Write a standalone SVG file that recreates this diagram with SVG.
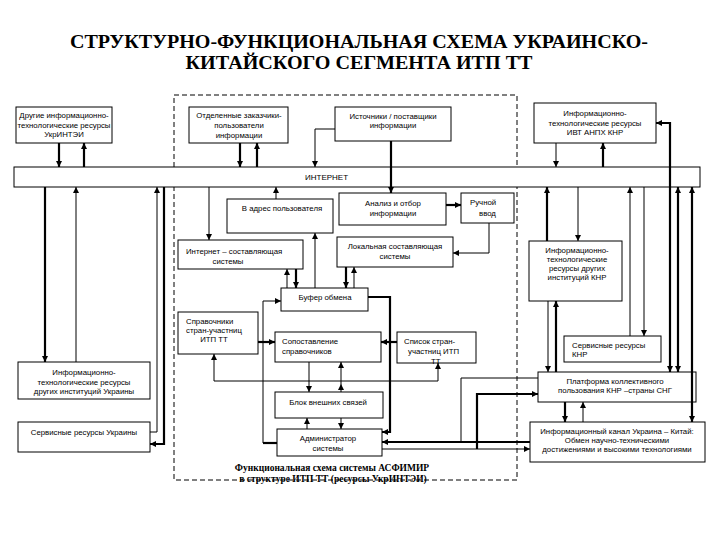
<svg xmlns="http://www.w3.org/2000/svg" width="720" height="540" viewBox="0 0 720 540">
<style>
.bx{fill:#fff;stroke:#000;stroke-width:1}
.t{font-family:"Liberation Sans",Arial,sans-serif;font-size:7.8px;fill:#000}
.m{text-anchor:middle}
.th{fill:none;stroke:#000;stroke-width:1}
.tk{fill:none;stroke:#000;stroke-width:2.2}
.ar{marker-end:url(#a)}
.as{marker-start:url(#a)}
.ttl{font-family:"Liberation Serif","Times New Roman",serif;font-weight:bold;font-size:19px;text-anchor:middle}
.cap{font-family:"Liberation Serif","Times New Roman",serif;font-weight:bold;font-size:9.5px;text-anchor:middle}
</style>
<defs>
<marker id="a" viewBox="0 0 6 6" refX="6" refY="3" markerWidth="6" markerHeight="6" markerUnits="userSpaceOnUse" orient="auto-start-reverse">
<path d="M0,0 L6,3 L0,6 z" fill="#000"/>
</marker>
</defs>
<rect width="720" height="540" fill="#fff"/>
<g id="title">
<text class="ttl" x="359" y="48" textLength="578" lengthAdjust="spacingAndGlyphs">СТРУКТУРНО-ФУНКЦИОНАЛЬНАЯ СХЕМА УКРАИНСКО-</text>
<text class="ttl" x="359" y="69" textLength="347" lengthAdjust="spacingAndGlyphs">КИТАЙСКОГО СЕГМЕНТА ИТП ТТ</text>
</g>
<g id="frame">
<rect x="174" y="95" width="343" height="385" fill="none" stroke="#000" stroke-width="1" stroke-dasharray="5,3"/>
<text class="cap" x="332" y="471">Функциональная схема системы АСФИМИР</text>
<text class="cap" x="333" y="482">в структуре ИТП ТТ (ресурсы УкрИНТЭИ)</text>
</g>
<g id="internet"><rect class="bx" x="14" y="167" width="686" height="20"/><text class="t" x="305" y="180" style="font-size:8px">ИНТЕРНЕТ</text></g>
<g id="n1"><rect class="bx" x="16" y="107" width="96" height="36"/><text class="t m" x="64" y="118">Другие информационно-</text><text class="t m" x="64" y="128">технологические ресурсы</text><text class="t m" x="64" y="137">УкрИНТЭИ</text></g>
<g id="n2"><rect class="bx" x="189" y="107" width="99" height="36"/><text class="t m" x="239" y="118">Отделенные  заказчики-</text><text class="t m" x="239" y="128">пользователи</text><text class="t m" x="239" y="138">информации</text></g>
<g id="n3"><rect class="bx" x="335" y="107" width="116" height="34"/><text class="t m" x="393" y="119">Источники / поставщики</text><text class="t m" x="393" y="128">информации</text></g>
<g id="n4"><rect class="bx" x="534" y="103" width="122" height="40"/><text class="t m" x="595" y="116">Информационно-</text><text class="t m" x="595" y="126">технологические ресурсы</text><text class="t m" x="595" y="135">ИВТ АНПХ КНР</text></g>
<g id="n5"><rect class="bx" x="227" y="199" width="106" height="34"/><text class="t m" x="282" y="211">В адрес пользователя</text></g>
<g id="n6"><rect class="bx" x="339" y="193" width="107" height="32"/><text class="t m" x="393" y="206">Анализ и отбор</text><text class="t m" x="393" y="216">информации</text></g>
<g id="n7"><rect class="bx" x="461" y="193" width="53" height="30"/><text class="t" x="470" y="205">Ручной</text><text class="t" x="479" y="216">ввод</text></g>
<g id="n8"><rect class="bx" x="178" y="240" width="125" height="29"/><text class="t" x="186" y="254">Интернет – составляющая</text><text class="t m" x="228" y="264">системы</text></g>
<g id="n9"><rect class="bx" x="337" y="237" width="116" height="30"/><text class="t m" x="395" y="249">Локальная составляющая</text><text class="t m" x="395" y="259">системы</text></g>
<g id="n10"><rect class="bx" x="281" y="288" width="87" height="23"/><text class="t m" x="325" y="300">Буфер обмена</text></g>
<g id="n11"><rect class="bx" x="178" y="312" width="80" height="42"/><text class="t" x="186" y="324">Справочники</text><text class="t" x="186" y="333">стран-участниц</text><text class="t m" x="214" y="342">ИТП  ТТ</text></g>
<g id="n12"><rect class="bx" x="275" y="332" width="106" height="30"/><text class="t" x="282" y="344">Сопоставление</text><text class="t" x="282" y="354">справочников</text></g>
<g id="n13"><rect class="bx" x="397" y="332" width="79" height="31"/><text class="t" x="404" y="344">Список стран-</text><text class="t" x="408" y="354">участниц  ИТП</text><text class="t" x="431" y="364">ТТ</text></g>
<g id="n14"><rect class="bx" x="275" y="392" width="108" height="26"/><text class="t m" x="328" y="405">Блок внешних  связей</text></g>
<g id="n15"><rect class="bx" x="277" y="429" width="105" height="27"/><text class="t m" x="328" y="441">Администратор</text><text class="t m" x="328" y="451">системы</text></g>
<g id="n16"><rect class="bx" x="529" y="241" width="93" height="60"/><text class="t m" x="577" y="253">Информационно-</text><text class="t m" x="577" y="262">технологические</text><text class="t m" x="577" y="271">ресурсы других</text><text class="t m" x="577" y="280">институций КНР</text></g>
<g id="n17"><rect class="bx" x="564" y="336" width="97" height="26"/><text class="t" x="572" y="348">Сервисные ресурсы</text><text class="t" x="572" y="357">КНР</text></g>
<g id="n18"><rect class="bx" x="538" y="372" width="158" height="30"/><text class="t m" x="615" y="384">Платформа коллективного</text><text class="t m" x="615" y="393">пользования КНР –страны СНГ</text></g>
<g id="n19"><rect class="bx" x="530" y="422" width="175" height="40"/><text class="t m" x="617" y="434">Информационный канал Украина – Китай:</text><text class="t m" x="617" y="443">Обмен научно-техническими</text><text class="t m" x="617" y="452">достижениями и высокими технологиями</text></g>
<g id="n20"><rect class="bx" x="18" y="362" width="132" height="37"/><text class="t m" x="84" y="375">Информационно-</text><text class="t m" x="84" y="385">технологические  ресурсы</text><text class="t m" x="84" y="394">других институций Украины</text></g>
<g id="n21"><rect class="bx" x="18" y="422" width="132" height="30"/><text class="t m" x="84" y="435">Сервисные  ресурсы Украины</text></g>
<g id="connectors">
<path class="tk ar" d="M59,143 V167"/>
<path class="tk ar" d="M84,167 V143"/>
<path class="tk ar" d="M240,143 V167"/>
<path class="tk ar" d="M257,167 V143"/>
<path class="th ar" d="M335,129 H315 V167"/>
<path class="tk ar" d="M391,141 V193"/>
<path class="th ar" d="M556,143 V167"/>
<path class="tk ar" d="M603,167 V143"/>
<path class="tk ar" d="M45,187 V362"/>
<path class="th ar" d="M76,362 V187"/>
<path class="th ar" d="M150,432 H157 V187"/>
<path class="tk ar" d="M164,187 V444 H150"/>
<path class="th ar" d="M209,187 V240"/>
<path class="th ar" d="M276,199 V187"/>
<path class="tk ar" d="M446,205 H461"/>
<path class="th ar" d="M489,223 V253 H453"/>
<path class="th ar" d="M315,288 V233"/>
<path class="th ar" d="M287,288 V269"/>
<path class="tk ar" d="M296,269 V288"/>
<path class="tk ar" d="M346,267 V288"/>
<path class="th ar" d="M354,288 V267"/>
<path class="tk" d="M277,443 H263"/>
<path class="th ar" d="M263,443 V301 H281"/>
<path class="tk ar" d="M368,297 H390 V432 H382"/>
<path class="tk ar" d="M258,342 H275"/>
<path class="tk ar" d="M397,342 H381"/>
<path class="th as ar" d="M214,354 V381 H438 V363"/>
<path class="th ar" d="M309,362 V392"/>
<path class="th ar" d="M341,392 V384"/>
<path class="th ar" d="M341,384 V362"/>
<path class="th ar" d="M307,429 V418"/>
<path class="th ar" d="M341,418 V429"/>
<path class="tk ar" d="M530,442 H382"/>
<path class="th" d="M538,378 H461 V442"/>
<path class="th ar" d="M382,449 H530"/>
<path class="tk ar" d="M477,449 V394 H538"/>
<path class="tk ar" d="M547,241 V187"/>
<path class="th ar" d="M578,187 V241"/>
<path class="th ar" d="M630,336 V187"/>
<path class="th ar" d="M644,187 V336"/>
<path class="tk as ar" d="M670,372 V123 H656"/>
<path class="tk as ar" d="M678,372 V187"/>
<path class="tk as ar" d="M692,422 V187"/>
<path class="th ar" d="M548,301 V372"/>
<path class="tk ar" d="M556,372 V301"/>
<path class="tk ar" d="M565,402 V422"/>
<path class="th ar" d="M583,422 V402"/>
</g>
</svg>
